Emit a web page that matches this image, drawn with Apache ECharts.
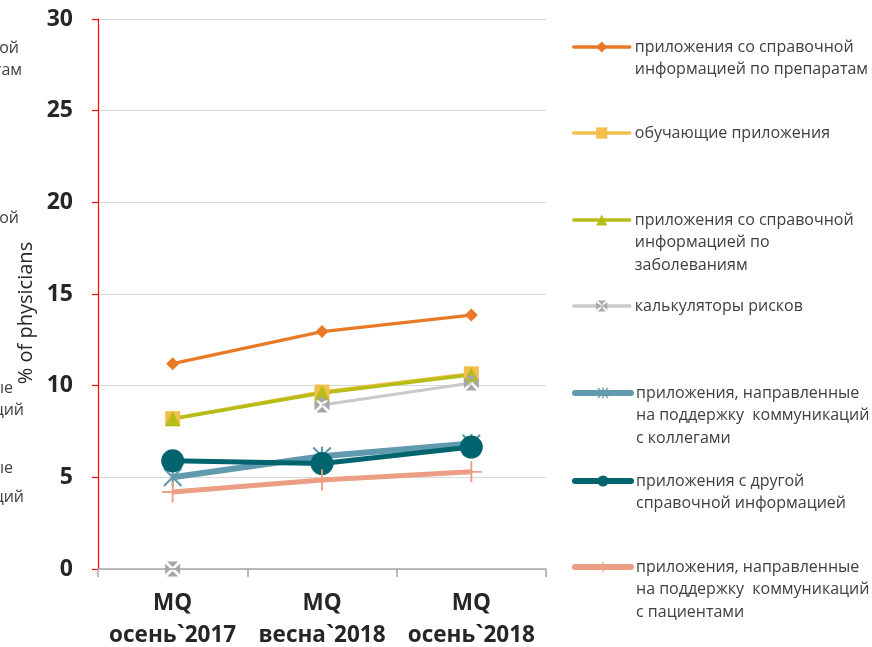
<!DOCTYPE html>
<html>
<head>
<meta charset="utf-8">
<script src="https://cdn.jsdelivr.net/npm/echarts@6/dist/echarts.min.js"></script>
<style>
  html, body { margin: 0; padding: 0; background: #fff; }
  #chart { width: 872px; height: 647px; }
</style>
</head>
<body>
<div id="chart"></div>
<script>
// Survey waves
const waves = ['MQ\nосень`2017', 'MQ\nвесна`2018', 'MQ\nосень`2018'];
const yTicks = [0, 5, 10, 15, 20, 25, 30];

// Share of physicians using each kind of app, %
const drugInfo = [11.2, 12.95, 13.85];
const training = [8.2, 9.65, 10.65];
const diseaseInfo = [8.2, 9.6, 10.6];
const riskCalc = [0, 8.95, 10.15];
const colleagues = [5.0, 6.15, 6.85];
const otherInfo = [5.9, 5.75, 6.65];
const patients = [4.2, 4.85, 5.3];

// Legend labels (line breaks as printed)
const names = [
  'приложения со справочной\nинформацией по препаратам',
  'обучающие приложения',
  'приложения со справочной\nинформацией по\nзаболеваниям',
  'калькуляторы рисков',
  'приложения, направленные\nна поддержку  коммуникаций\nс коллегами',
  'приложения с другой\nсправочной информацией',
  'приложения, направленные\nна поддержку  коммуникаций\nс пациентами'
];

const FONT = '"Open Sans", "Noto Sans", sans-serif';

// Marker shapes
const boxCross = 'path://M1.3,0 L8.7,0 L5,3.7 Z M10,1.3 L10,8.7 L6.3,5 Z M8.7,10 L1.3,10 L5,6.3 Z M0,8.7 L0,1.3 L3.7,5 Z';
const asterisk = 'path://M4.45,0 L5.55,0 L5.55,10 L4.45,10 Z M0.8,0 L10,9.2 L9.2,10 L0,0.8 Z M9.2,0 L10,0.8 L0.8,10 L0,9.2 Z';
const plus = 'path://M4.55,0 L5.45,0 L5.45,4.55 L10,4.55 L10,5.45 L5.45,5.45 L5.45,10 L4.55,10 L4.55,5.45 L0,5.45 L0,4.55 L4.55,4.55 Z';

const styles = [
  { color: '#E87A27', width: 3.2, legendWidth: 3.5, symbol: 'diamond',  size: 13 },
  { color: '#F3BF4B', width: 3.5, legendWidth: 3.5, symbol: 'rect',     size: 15 },
  { color: '#B6BD16', width: 3.5, legendWidth: 3.5, symbol: 'triangle', size: 15 },
  { color: '#C9C9C9', width: 3,   legendWidth: 3.5, symbol: boxCross,   size: 15, markColor: '#A6A6A6' },
  { color: '#6199AE', width: 6,   legendWidth: 6,   symbol: asterisk,   size: 19 },
  { color: '#00646E', width: 5,   legendWidth: 6,   symbol: 'circle',   size: 23 },
  { color: '#EB9E83', width: 5,   legendWidth: 6,   symbol: plus,       size: 21 }
];

const values = [drugInfo, training, diseaseInfo, riskCalc, colleagues, otherInfo, patients];

function lineSeries(i, data) {
  const s = styles[i];
  return {
    name: names[i],
    type: 'line',
    data: data,
    symbol: s.symbol,
    symbolSize: s.size,
    showAllSymbol: true,
    connectNulls: false,
    lineStyle: { color: s.color, width: s.width },
    itemStyle: { color: s.markColor || s.color, borderWidth: 0 },
    emphasis: { disabled: true },
    animation: false
  };
}

const series = values.map((v, i) => {
  if (v === riskCalc) {
    // the first wave was not linked to the later ones
    return lineSeries(i, v.map((x, k) => (k === 0 ? null : x)));
  }
  return lineSeries(i, v);
});
// stand-alone marker for the first wave of the risk calculators
const rcSingle = lineSeries(3, riskCalc.map((x, k) => (k === 0 ? x : null)));
rcSingle.lineStyle = { width: 0, opacity: 0 };
series.splice(4, 0, rcSingle);

// One legend block per entry; leading blank lines keep the icon level with the first text line
const LH = 22.5;
const ITEM_H = 14;
const iconY = [47, 133, 220, 306, 393, 481, 567];
const legends = names.map((n, i) => {
  const lines = n.split('\n').length;
  const blockH = (2 * lines - 1) * LH;
  const top = iconY[i] - 5 - Math.max(ITEM_H / 2, blockH / 2);
  return {
    data: [n],
    left: 567,
    top: top,
    orient: 'vertical',
    itemWidth: 56,
    itemHeight: ITEM_H,
    itemGap: 5,
    selectedMode: false,
    lineStyle: { width: styles[i].legendWidth, cap: 'round' },
    formatter: (name) => '\n'.repeat(lines - 1) + name,
    textStyle: {
      fontFamily: FONT,
      fontSize: 16,
      color: '#404040',
      lineHeight: LH
    }
  };
});

// Clipped labels of a neighbouring legend at the left edge
const clipped = [
  ['справочной', 19, 48], ['препаратам', 22, 70], ['справочной', 19, 218],
  ['направленные', 13, 388], ['коммуникаций', 24, 410],
  ['направленные', 13, 468], ['коммуникаций', 24, 497]
];

const chart = echarts.init(document.getElementById('chart'), null, { renderer: 'canvas' });
chart.setOption({
  animation: false,
  backgroundColor: '#ffffff',
  grid: { left: 98, right: 326, top: 19, bottom: 78, containLabel: false, outerBoundsMode: 'none' },
  legend: legends,
  graphic: clipped.map(([t, x, y]) => ({
    type: 'text', x: x, y: y, silent: true,
    style: { text: t, fontFamily: FONT, fontSize: 16, fill: '#404040', align: 'right', verticalAlign: 'middle' }
  })),
  xAxis: {
    type: 'category',
    data: waves,
    boundaryGap: true,
    axisLine: { lineStyle: { color: '#A6A6A6', width: 1.5 } },
    axisTick: { show: true, length: 8, lineStyle: { color: '#A6A6A6', width: 1.5 } },
    axisLabel: {
      interval: 0, margin: 19, color: '#262626', fontFamily: FONT,
      fontSize: 22.5, fontWeight: 'bold', lineHeight: 32
    },
    splitLine: { show: false }
  },
  yAxis: {
    type: 'value',
    min: yTicks[0],
    max: yTicks[yTicks.length - 1],
    interval: yTicks[1] - yTicks[0],
    name: '% of physicians',
    nameLocation: 'middle',
    nameRotate: 90,
    nameGap: 62,
    nameTextStyle: { fontFamily: FONT, fontSize: 20, color: '#262626', padding: [0, 38, 0, 0] },
    axisLine: { show: true, lineStyle: { color: '#FF0000', width: 1.2 } },
    axisTick: { show: true, length: 6, lineStyle: { color: '#FF0000', width: 1.2 } },
    axisLabel: {
      margin: 25, color: '#262626', fontFamily: FONT, fontSize: 23, fontWeight: 'bold'
    },
    splitLine: { lineStyle: { color: '#D9D9D9', width: 1.2 } }
  },
  series: series
});
</script>
</body>
</html>
